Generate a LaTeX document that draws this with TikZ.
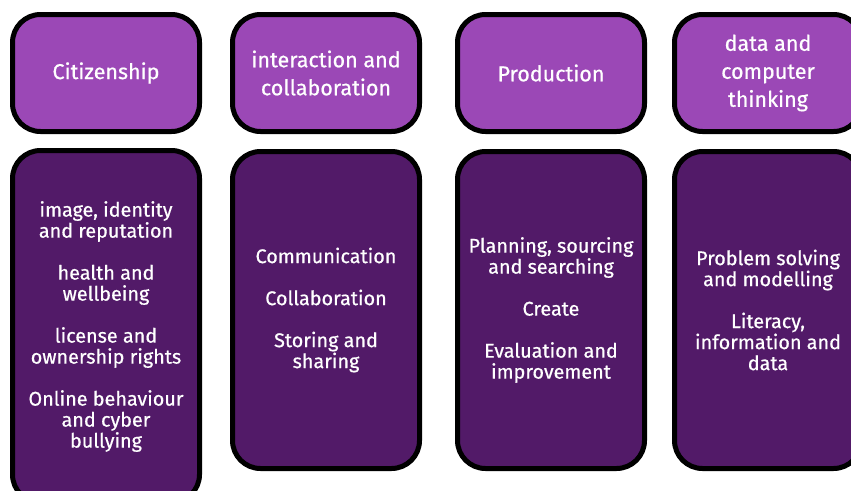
\documentclass[tikz,border=0pt]{standalone}
\usepackage{fontspec}
\setmainfont{Fira Sans}
\newfontfamily\cardfont{Fira Sans}[FakeBold=0.6]
\usetikzlibrary{shadows}
\definecolor{toppurple}{HTML}{9B48B6}
\definecolor{botpurple}{HTML}{521A68}
\tikzset{
  card/.style={draw=black, line width=5pt, rounded corners=28pt, inner sep=0pt,
    drop shadow={opacity=0.25, shadow xshift=0pt, shadow yshift=-1.5pt}},
  topcard/.style={card, fill=toppurple, minimum width=187pt, minimum height=117pt},
  botcard/.style={card, fill=botpurple, minimum width=187pt, minimum height=317pt},
  toptxt/.style={text=white, align=center, font=\cardfont\fontsize{21.5pt}{28pt}\selectfont, inner sep=0pt},
  bottxt/.style={text=white, align=center, font=\cardfont\fontsize{19.8pt}{21pt}\selectfont, inner sep=0pt}
}
\begin{document}
\begin{tikzpicture}[x=1pt,y=1pt]
\useasboundingbox (0,0) rectangle (851,-490);
\clip (0,0) rectangle (851,-490);
% top cards
\node[topcard] (t1) at (106,-73) {};
\node[topcard] (t2) at (326,-73) {};
\node[topcard] (t3) at (551,-73) {};
\node[topcard] (t4) at (768,-73) {};
% bottom cards
\node[botcard, minimum height=352pt] (b1) at (106,-326.5) {};
\node[botcard] (b2) at (326,-310) {};
\node[botcard] (b3) at (551,-310) {};
\node[botcard] (b4) at (768,-310) {};
% texts
\node[toptxt] (l1) at (t1.center) {Citizenship};
\node[toptxt] (l2) at (t2.center) {interaction and\\collaboration};
\node[toptxt] (l3) at (t3.center) {Production};
\node[toptxt] (l4) at (t4.center) {data and\\computer\\thinking};
\node[bottxt] (m1) at (b1.center) {image, identity\\and reputation\\[21pt]health and\\wellbeing\\[21pt]license and\\ownership rights\\[21pt]Online behaviour\\and cyber\\bullying};
\node[bottxt] (m2) at (b2.center) {Communication\\[21pt]Collaboration\\[21pt]Storing and\\sharing};
\node[bottxt] (m3) at (b3.center) {Planning, sourcing\\and searching\\[21pt]Create\\[21pt]Evaluation and\\improvement};
\node[bottxt] (m4) at (b4.center) {Problem solving\\and modelling\\[21pt]Literacy,\\information and\\data};
\end{tikzpicture}
\end{document}
